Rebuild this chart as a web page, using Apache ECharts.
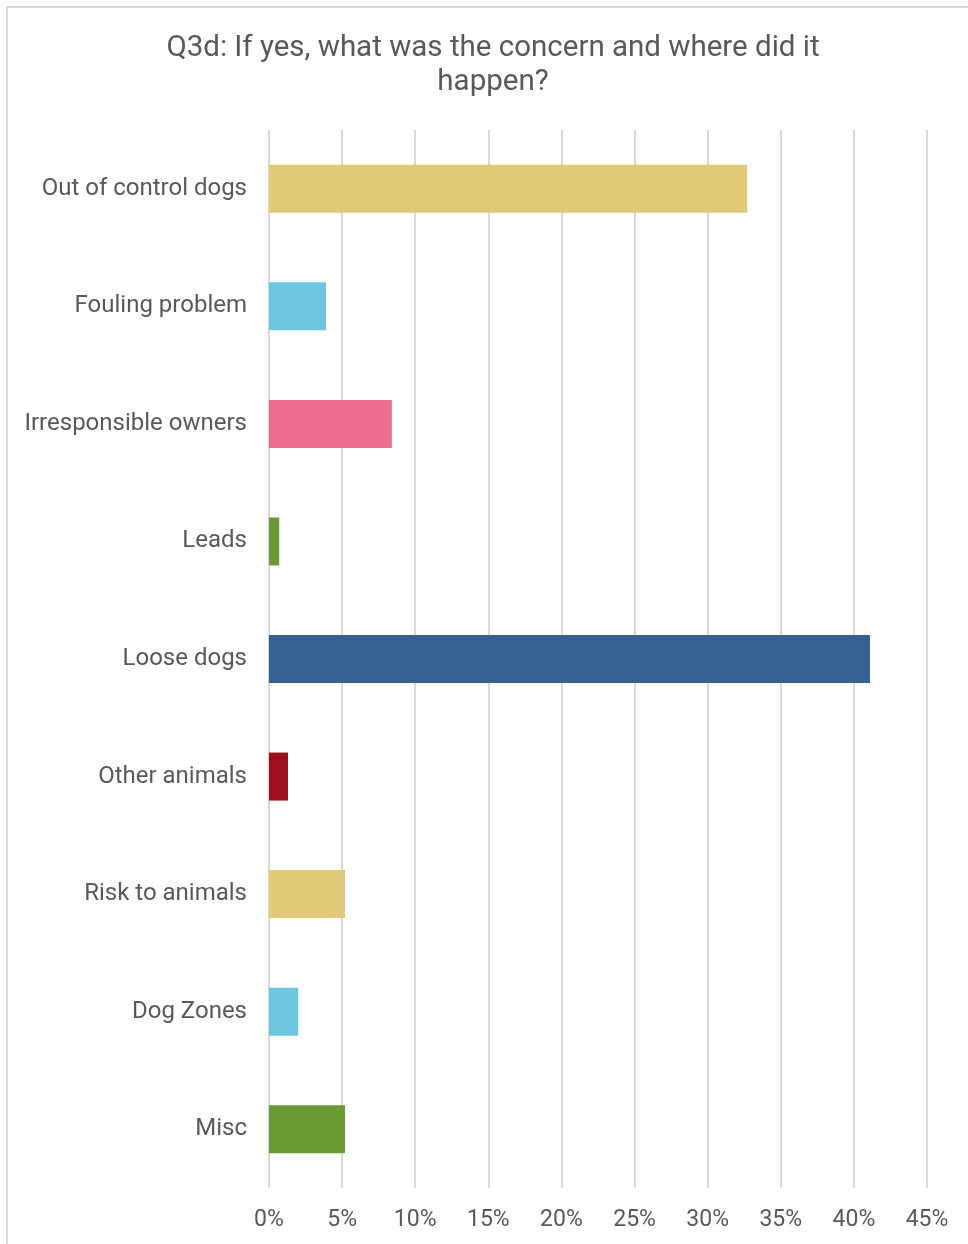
<!DOCTYPE html>
<html>
<head>
<meta charset="utf-8">
<script src="https://cdn.jsdelivr.net/npm/echarts@6/dist/echarts.min.js"></script>
<style>
html,body{margin:0;padding:0;background:#fff;}
#frame{position:absolute;left:6px;top:6px;width:1000px;height:1300px;border:2px solid #d9d9d9;box-sizing:border-box;}
#chart{position:absolute;left:0;top:0;width:968px;height:1244px;}
</style>
</head>
<body>
<div id="frame"></div>
<div id="chart"></div>
<script>
const titleText = "Q3d: If yes, what was the concern and where did it\nhappen?";
const categories = ["Out of control dogs","Fouling problem","Irresponsible owners","Leads","Loose dogs","Other animals","Risk to animals","Dog Zones","Misc"];
const values = [32.7, 3.9, 8.4, 0.7, 41.1, 1.3, 5.2, 2.0, 5.2];
const barColors = ["#E2C977","#6CC8E0","#ED6D8F","#6A9A35","#36608F","#A00F20","#E2C977","#6CC8E0","#6A9A35"];
const xTicks = [0,5,10,15,20,25,30,35,40,45];

const chart = echarts.init(document.getElementById('chart'), null, {renderer:'canvas'});
chart.setOption({
  animation:false,
  backgroundColor:'transparent',
  title:{
    text:titleText,
    left:488, top:27, textAlign:'center',
    textStyle:{fontFamily:'Roboto',fontSize:29.5,fontWeight:'normal',color:'#595959',lineHeight:34}
  },
  grid:{left:269,right:41,top:130,height:1058,containLabel:false},
  xAxis:{
    type:'value', min:xTicks[0], max:xTicks[xTicks.length-1], interval:5,
    axisLine:{show:false}, axisTick:{show:false},
    splitLine:{show:true,lineStyle:{color:'#d9d9d9',width:2}},
    axisLabel:{formatter:'{value}%',fontFamily:'Roboto',fontSize:23,color:'#595959',margin:21}
  },
  yAxis:{
    type:'category', data:categories, inverse:true,
    axisLine:{show:false}, axisTick:{show:false},
    axisLabel:{fontFamily:'Roboto',fontSize:24,color:'#595959',margin:22}
  },
  series:[{
    type:'bar',
    data:values.map((v,i)=>({value:v,itemStyle:{color:barColors[i]}})),
    barWidth:48
  }]
});
</script>
</body>
</html>
